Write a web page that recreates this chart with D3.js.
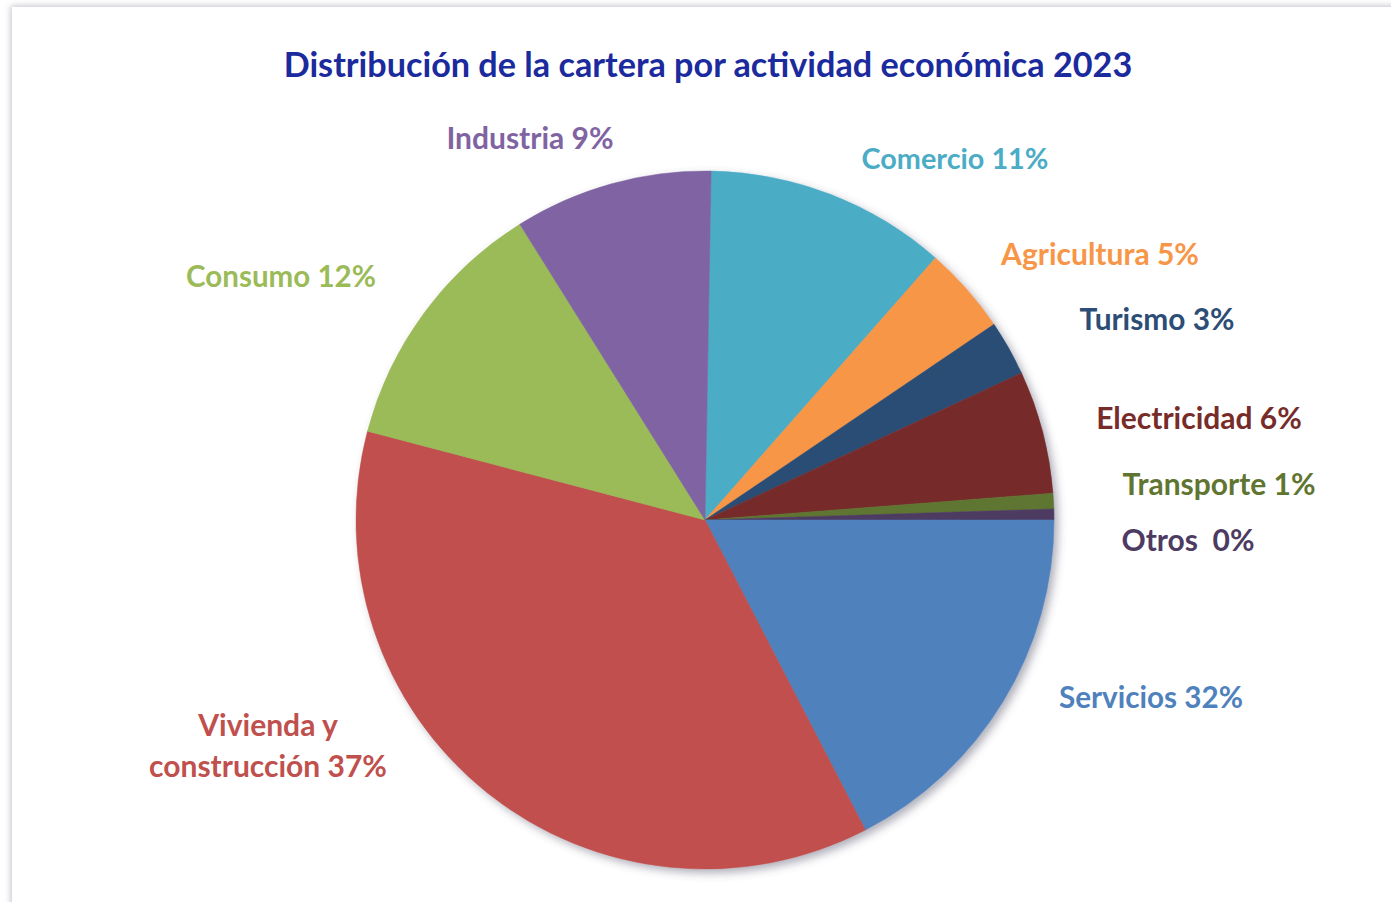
<!DOCTYPE html>
<html>
<head>
<meta charset="utf-8">
<script src="https://cdn.jsdelivr.net/npm/d3@7"></script>
<style>
  html, body { margin: 0; padding: 0; background: #ffffff; }
  svg { display: block; }
  text { font-family: "Lato", "Open Sans", sans-serif; font-weight: 700; }
</style>
</head>
<body>
<svg id="chart" width="1391" height="902"></svg>
<script>
// ---- data ----
const categories = ["Comercio", "Agricultura", "Turismo", "Electricidad", "Transporte", "Otros", "Servicios", "Vivienda y construcción", "Consumo", "Industria"];
// slice sizes as drawn (percent of circle)
const values = [11.2, 4.05, 2.55, 5.7, 0.72, 0.5, 17.4, 36.7, 12.0, 9.18];
// percentages printed in the labels
const labelPercents = ["11%", "5%", "3%", "6%", "1%", "0%", "32%", "37%", "12%", "9%"];
const colors = ["#4BACC6", "#F79646", "#2C4D75", "#772C2A", "#5F7530", "#4D3B62", "#4F81BD", "#C0504D", "#9BBB59", "#8064A2"];
const labelLines = [
  ["Comercio 11%"], ["Agricultura 5%"], ["Turismo 3%"], ["Electricidad 6%"], ["Transporte 1%"],
  ["Otros\u00A0 0%"], ["Servicios 32%"], ["Vivienda y", "construcción 37%"], ["Consumo 12%"], ["Industria 9%"]
];
// label anchor (center x, center y of first line) and target widths
const labelPos = [[955, 159], [1100, 254], [1157, 319], [1199, 418], [1219, 484], [1188, 540], [1151, 697], [268, 725], [281, 276], [530, 138]];
const labelWidths = [[187], [202], [155], [212], [193], [133], [184], [147, 242], [190], [170]];
const title = "Distribución de la cartera por actividad económica 2023";

const svg = d3.select("#chart");
const defs = svg.append("defs");

const cardShadow = defs.append("filter").attr("id", "cardShadow")
  .attr("x", "-5%").attr("y", "-5%").attr("width", "110%").attr("height", "110%");
cardShadow.append("feDropShadow").attr("dx", -1).attr("dy", -1).attr("stdDeviation", 3)
  .attr("flood-color", "#8a8aa0").attr("flood-opacity", 0.55);

const pieShadow = defs.append("filter").attr("id", "pieShadow")
  .attr("x", "-10%").attr("y", "-10%").attr("width", "120%").attr("height", "120%");
pieShadow.append("feDropShadow").attr("dx", 4).attr("dy", 4).attr("stdDeviation", 4)
  .attr("flood-color", "#505068").attr("flood-opacity", 0.45);

// card
svg.append("rect").attr("x", 12).attr("y", 7).attr("width", 1400).attr("height", 920)
  .attr("fill", "#ffffff").attr("filter", "url(#cardShadow)");

// title
const titleText = svg.append("text").attr("x", 708).attr("y", 77).attr("text-anchor", "middle")
  .attr("fill", "#1B2A9C").style("font-size", "29px").text(title);
(function fit(t, target) {
  const w = t.node().getComputedTextLength();
  const fs = parseFloat(t.style("font-size"));
  t.style("font-size", (fs * target / w) + "px");
})(titleText, 849);

// pie
const cx = 705, cy = 520, r = 349;
const offset = 1.0 * Math.PI / 180;
const pie = d3.pie().sort(null).value(d => d.v).startAngle(offset).endAngle(2 * Math.PI + offset);
const arc = d3.arc().innerRadius(0).outerRadius(r);
const data = categories.map((c, i) => ({ c, v: values[i], color: colors[i] }));

const g = svg.append("g").attr("transform", `translate(${cx},${cy})`).attr("filter", "url(#pieShadow)");
g.selectAll("path").data(pie(data)).enter().append("path")
  .attr("d", arc).attr("fill", d => d.data.color)
  .attr("stroke", d => d.data.color).attr("stroke-width", 0.5);

// labels
categories.forEach((c, i) => {
  const lines = labelLines[i];
  lines.forEach((ln, j) => {
    const t = svg.append("text")
      .attr("x", labelPos[i][0])
      .attr("text-anchor", "middle")
      .attr("fill", colors[i])
      .style("font-size", "26px")
      .text(ln);
    const w = t.node().getComputedTextLength();
    const fs = 26 * labelWidths[i][j] / w;
    const size = Math.min(Math.max(fs, 22), 30);
    t.style("font-size", size + "px")
      .attr("y", labelPos[i][1] + j * 41 + size * 0.36);
  });
});
</script>
</body>
</html>
